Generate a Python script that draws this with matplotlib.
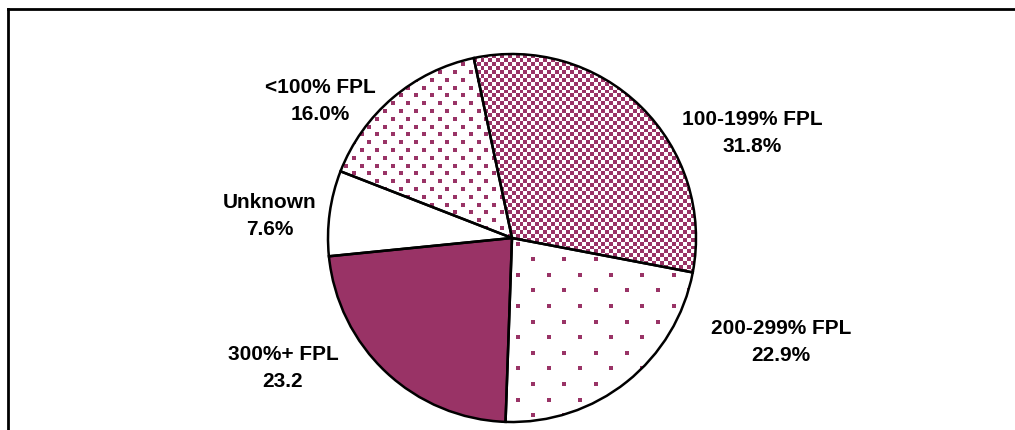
import numpy as np
import matplotlib
matplotlib.use('Agg')
import matplotlib.pyplot as plt
from matplotlib.lines import Line2D

# data
categories = ['100-199% FPL', '200-299% FPL', '300%+ FPL', 'Unknown', '<100% FPL']
shares = [31.8, 22.9, 23.2, 7.6, 16.0]
share_labels = ['31.8%', '22.9%', '23.2', '7.6%', '16.0%']

MAROON = '#993366'
W, H = 1015, 431
CX, CY, R = 512, 239, 184   # pie centre / radius in pixels (from top-left)
PAD = 1.1

# label block centres in pixels
label_px = [(752, 133), (781, 342), (283, 368), (270, 216), (320, 101)]
fills = ['checker', 'sparse', 'solid', 'none', 'dots']


def pattern(kind, n):
    s = 3.9
    yy, xx = np.mgrid[0:n, 0:n]
    i = np.floor(xx / s).astype(int)
    j = np.floor(yy / s).astype(int)
    if kind == 'checker':
        on = (i + j) % 2 == 0
    elif kind == 'dots':
        on = (j % 2 == 0) & (i % 4 == np.where((j // 2) % 2 == 0, 0, 2))
    elif kind == 'sparse':
        on = (j % 4 == 0) & (i % 8 == np.where((j // 4) % 2 == 0, 0, 4))
    else:
        on = np.zeros((n, n), bool)
    rgb = np.ones((n, n, 3))
    c = np.array(matplotlib.colors.to_rgb(MAROON))
    rgb[on] = c
    return rgb


def main():
    plt.rcParams['font.family'] = 'Liberation Sans'
    fig = plt.figure(figsize=(W / 100, H / 100), dpi=100)

    side = 2 * R * PAD
    ax = fig.add_axes([(CX - side / 2) / W, (H - CY - side / 2) / H, side / W, side / H])

    face = [MAROON if f == 'solid' else 'white' for f in fills]
    wedges, _ = ax.pie(shares, startangle=102, counterclock=False, colors=face,
                       wedgeprops=dict(linewidth=0))

    n = 2 * R
    for w, f in zip(wedges, fills):
        if f in ('solid', 'none'):
            continue
        im = ax.imshow(pattern(f, n), extent=(-1, 1, -1, 1), interpolation='nearest',
                       zorder=2)
        im.set_clip_path(w)

    # outlines on top
    ax.pie(shares, startangle=102, counterclock=False,
           wedgeprops=dict(fill=False, edgecolor='black', linewidth=1.8, zorder=3))

    ax.set_xlim(-PAD, PAD)
    ax.set_ylim(-PAD, PAD)
    ax.set_aspect('equal')
    ax.axis('off')

    for cat, lab, (px, py) in zip(categories, share_labels, label_px):
        ax.text((px - CX) / R, (CY - py) / R, f'{cat}\n{lab}', ha='center', va='center',
                multialignment='center', fontsize=15, fontweight='bold', zorder=4,
                linespacing=1.55)

    # chart frame (only top and left edges are visible)
    y_top = 1 - 9.5 / H
    x_left = 8 / W
    fig.add_artist(Line2D([x_left, x_left], [0, y_top], color='black', linewidth=2,
                          transform=fig.transFigure, solid_capstyle='projecting'))
    fig.add_artist(Line2D([x_left, 1], [y_top, y_top], color='black', linewidth=2,
                          transform=fig.transFigure, solid_capstyle='projecting'))

    fig.savefig('out.png', dpi=100)


if __name__ == '__main__':
    main()
